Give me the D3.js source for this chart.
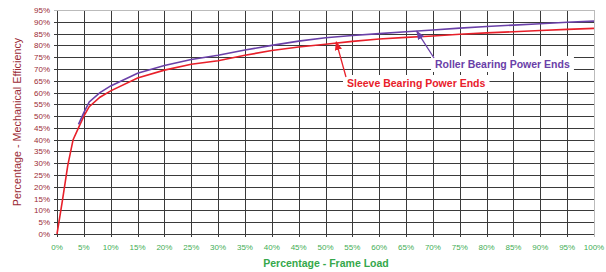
<!DOCTYPE html>
<html>
<head>
<meta charset="utf-8">
<script src="https://cdn.jsdelivr.net/npm/d3@7"></script>
<style>
  body { margin: 0; background: #fff; }
  text { font-family: "Liberation Sans", Arial, sans-serif; }
</style>
</head>
<body>
<svg id="chart" width="606" height="272"></svg>
<script>
// frame load (%) vs mechanical efficiency (%)
var sleeveLoad = [0, 1, 2, 3, 4, 5, 6, 8, 10, 15, 20, 25, 30, 35, 40, 45, 50, 55, 60, 65, 70, 75, 80, 85, 90, 95, 100];
var sleeveEff  = [0, 14, 29, 40, 45, 50, 54, 58, 60.7, 66.2, 69.5, 72, 73.5, 75.8, 77.8, 79.3, 80.5, 81.7, 82.7, 83.4, 84, 84.7, 85.3, 85.8, 86.3, 86.8, 87.2];
var rollerLoad = [4, 5, 6, 8, 10, 15, 20, 25, 30, 35, 40, 45, 50, 55, 60, 65, 70, 75, 80, 85, 90, 95, 100];
var rollerEff  = [46.5, 51.5, 56, 60, 62.8, 68.2, 71.5, 74, 75.8, 78, 80, 81.8, 83.2, 84.2, 85, 85.8, 86.5, 87.3, 88, 88.6, 89.2, 89.8, 90.3];
var xTicks = d3.range(0, 101, 5);
var yTicks = d3.range(0, 96, 5);

var svg = d3.select("#chart");
var x = d3.scaleLinear().domain([0, 100]).range([57, 594]);
var y = d3.scaleLinear().domain([0, 95]).range([234, 10]);

// grid
svg.append("g").selectAll("line").data(xTicks).join("line")
    .attr("x1", d => Math.round(x(d)) + 0.5).attr("x2", d => Math.round(x(d)) + 0.5)
    .attr("y1", y(95)).attr("y2", y(0) + 3)
    .attr("stroke", d => (d === 100 ? "#bbb" : "#3a3a3a")).attr("stroke-width", 1);
svg.append("g").selectAll("line").data(yTicks).join("line")
    .attr("x1", x(0) - 3).attr("x2", x(100))
    .attr("y1", d => Math.round(y(d)) + 0.5).attr("y2", d => Math.round(y(d)) + 0.5)
    .attr("stroke", d => (d === 95 ? "#bbb" : "#3a3a3a")).attr("stroke-width", 1);

// tick labels
svg.append("g").selectAll("text").data(yTicks).join("text")
    .attr("x", 50).attr("y", d => y(d) + 3)
    .attr("text-anchor", "end").attr("font-size", 8).attr("fill", "#9b2b35")
    .text(d => d + "%");
svg.append("g").selectAll("text").data(xTicks).join("text")
    .attr("x", d => x(d)).attr("y", 250)
    .attr("text-anchor", "middle").attr("font-size", 8).attr("fill", "#3fae55")
    .text(d => d + "%");

// axis titles
svg.append("text").attr("x", 326).attr("y", 267).attr("text-anchor", "middle")
    .attr("font-size", 10.5).attr("font-weight", "bold").attr("fill", "#35a84b")
    .text("Percentage - Frame Load");
svg.append("text").attr("transform", "translate(21,122) rotate(-90)")
    .attr("text-anchor", "middle").attr("font-size", 10.8).attr("fill", "#9b2b35")
    .text("Percentage - Mechanical Efficiency");

// series
var line = d3.line().x(d => x(d[0])).y(d => y(d[1]));
svg.append("path").datum(d3.zip(sleeveLoad, sleeveEff)).attr("d", line)
    .attr("fill", "none").attr("stroke", "#e8202a").attr("stroke-width", 1.6);
svg.append("path").datum(d3.zip(rollerLoad, rollerEff)).attr("d", line)
    .attr("fill", "none").attr("stroke", "#6a40a8").attr("stroke-width", 1.6);

// annotations
var defs = svg.append("defs");
[["arR", "#e8202a"], ["arP", "#6a40a8"]].forEach(function (m) {
    defs.append("marker").attr("id", m[0]).attr("viewBox", "0 0 10 10")
        .attr("refX", 9).attr("refY", 5).attr("markerWidth", 7).attr("markerHeight", 7)
        .attr("orient", "auto-start-reverse")
        .append("path").attr("d", "M0,1 L10,5 L0,9 z").attr("fill", m[1]);
});

function note(label, color, tx, ty, px, py, mk) {
    var g = svg.append("g");
    var t = g.append("text").attr("x", tx).attr("y", ty)
        .attr("font-size", 10.5).attr("font-weight", "bold").attr("fill", color).text(label);
    var b = t.node().getBBox();
    g.insert("rect", "text").attr("x", b.x - 4).attr("y", b.y - 2)
        .attr("width", b.width + 8).attr("height", b.height + 4).attr("fill", "#fff");
    svg.append("line").attr("x1", tx - 1).attr("y1", ty - 10)
        .attr("x2", x(px)).attr("y2", y(py))
        .attr("stroke", color).attr("stroke-width", 1.3).attr("marker-end", "url(#" + mk + ")");
}
note("Sleeve Bearing Power Ends", "#e8202a", 347, 87, 52, 81.5, "arR");
note("Roller Bearing Power Ends", "#6a40a8", 435, 68, 67, 86, "arP");
</script>
</body>
</html>
